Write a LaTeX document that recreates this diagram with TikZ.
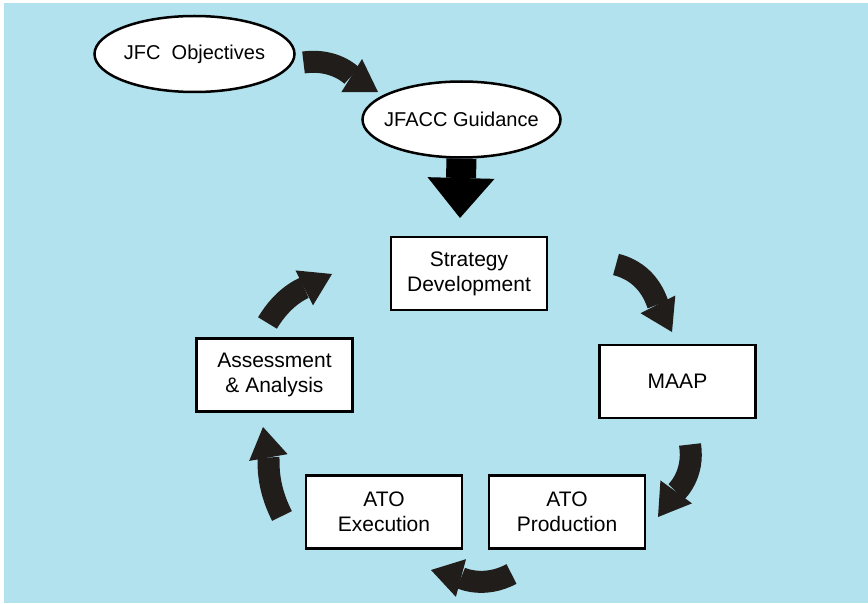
\documentclass[tikz,border=0pt]{standalone}
\usepackage{fontspec}
\setmainfont{Liberation Sans}
\usetikzlibrary{arrows.meta,shapes.geometric}
\definecolor{skyblue}{RGB}{178,226,237}
\definecolor{ink}{RGB}{33,29,26}

\begin{document}
\begin{tikzpicture}[x=1pt,y=-1pt,
  stage/.style={draw,line width=2.5pt,fill=white,minimum width=156pt,minimum height=73pt,inner sep=0pt,align=center,font=\fontsize{21}{25}\selectfont},
  oval/.style={draw,ellipse,line width=2.5pt,fill=white,minimum width=200pt,minimum height=76pt,inner sep=0pt,font=\fontsize{20}{24}\selectfont},
  fatarrow/.style={ink,line width=22pt,-{Triangle[length=31pt,width=39pt,line width=0pt]}},
  droparrow/.style={black,line width=30pt,-{Triangle[length=40pt,width=67pt,line width=0pt]}}]
\fill[skyblue] (4,3) rectangle (868,603);
\useasboundingbox (0,0) rectangle (868,604);
%BOXES AND OVALS AT PIXEL POSITIONS, Y RUNS DOWN, ANGLES DO NOT
\node[oval] (jfc) at (194.5,54) {\makebox[0pt]{JFC\ \ Objectives}};
\node[oval,minimum width=198pt] (jfacc) at (461.5,119.5) {\makebox[0pt]{JFACC Guidance}};
\node[stage] (strat) at (469,273.5) {Strategy\\Development};
\node[stage] (maap) at (677.5,381.5) {MAAP};
\node[stage] (prod) at (567,512) {ATO\\Production};
\node[stage] (exec) at (384,512) {ATO\\Execution};
\node[stage] (assess) at (274.5,375) {Assessment\\\& Analysis};
\coordinate (droptip) at (460,218);
\coordinate (t1) at (303.5,62.5);  \coordinate (h1) at (378,92);
\coordinate (t2) at (616,264.5);   \coordinate (h2) at (672,332);
\coordinate (t3) at (690,444.5);   \coordinate (h3) at (658,517);
\coordinate (t4) at (511.5,574);   \coordinate (h4) at (431,570);
\coordinate (t5) at (282,516);     \coordinate (h5) at (263,427);
\coordinate (t6) at (267.5,323);   \coordinate (h6) at (332,274);
\draw[droparrow] (jfacc.south) -- (droptip);
\draw[fatarrow] (t1) to[out=8,in=148] (h1);
\draw[fatarrow] (t2) to[out=-14,in=117] (h2);
\draw[fatarrow] (t3) to[out=-81,in=54] (h3);
\draw[fatarrow] (t4) to[out=-152,in=-15] (h4);
\draw[fatarrow] (t5) to[out=117,in=-80] (h5);
\draw[fatarrow] (t6) to[out=59.5,in=-153.4] (h6);
\end{tikzpicture}
\end{document}
